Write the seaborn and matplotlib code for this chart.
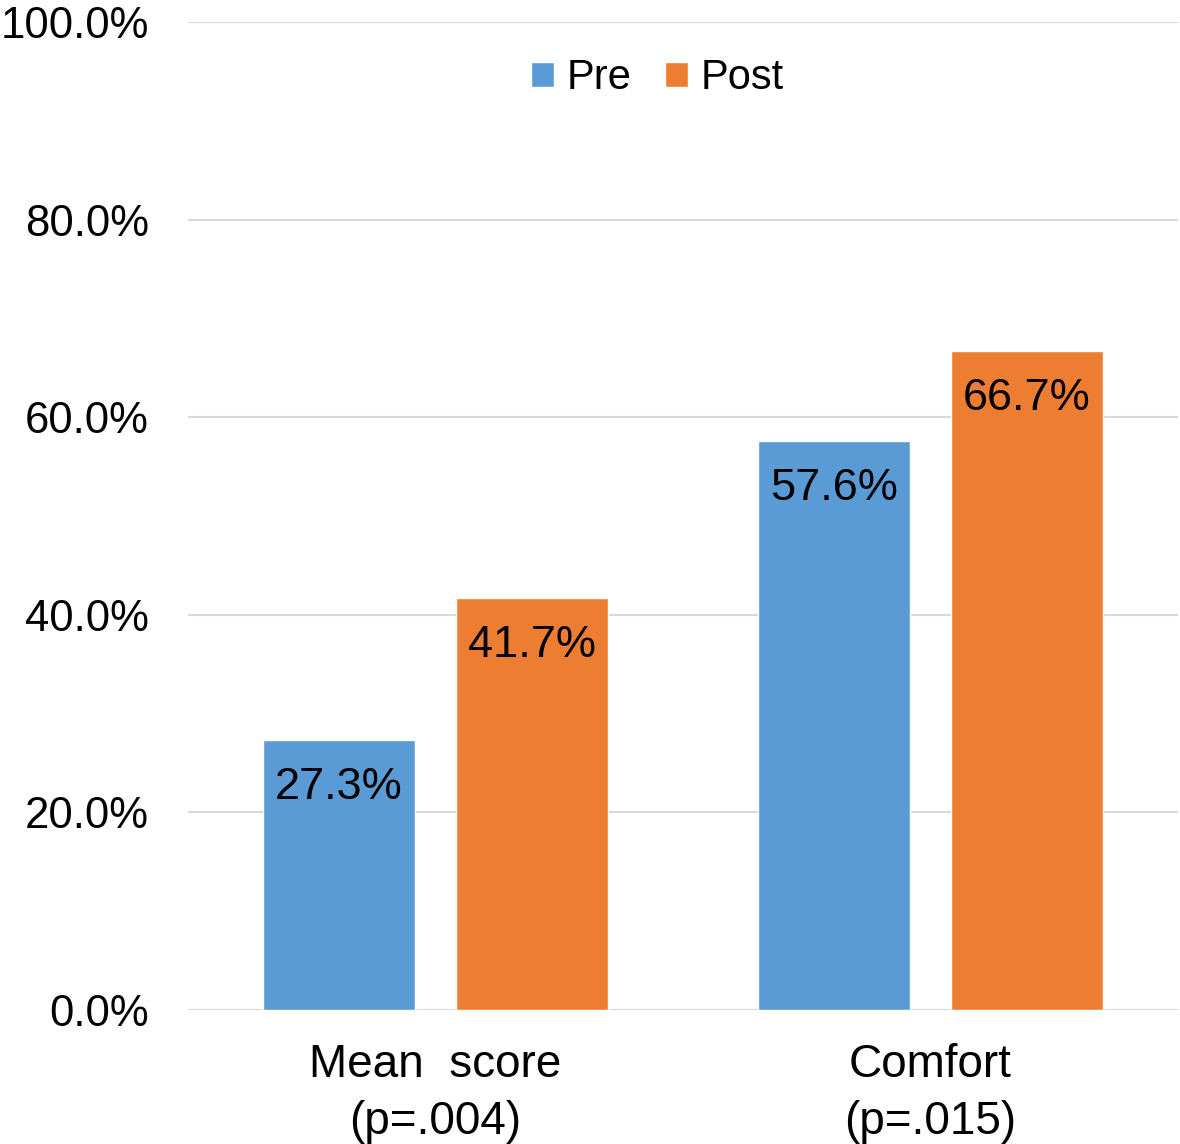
import matplotlib
matplotlib.use("Agg")
import matplotlib.pyplot as plt
import seaborn as sns
import pandas as pd

# Data
categories = ['Mean  score\n(p=.004)', 'Comfort\n(p=.015)']
pre_values = [27.3, 57.6]
post_values = [41.7, 66.7]
groups = ['Pre', 'Post']
y_ticks = [0, 20, 40, 60, 80, 100]

df = pd.DataFrame({'Category': categories, 'Pre': pre_values, 'Post': post_values})
df_melted = df.melt(id_vars='Category', var_name='Group', value_name='Percent')

sns.set_style("white")
plt.rcParams['font.family'] = ['Liberation Sans', 'DejaVu Sans']
plt.rcParams['text.color'] = 'black'
plt.rcParams['xtick.color'] = 'black'
plt.rcParams['ytick.color'] = 'black'

fig = plt.figure(figsize=(11.8, 11.44), dpi=100)
ax = fig.add_axes([0.1593, 0.1171, 0.8390, 0.8636])

palette = {'Pre': '#5B9BD5', 'Post': '#ED7D31'}
sns.barplot(data=df_melted, x='Category', y='Percent', hue='Group', hue_order=groups,
            palette=palette, width=0.78, gap=0.21, saturation=1, ax=ax, zorder=3)

# value labels inside the top of each bar
for container in ax.containers:
    for bar in container:
        h = bar.get_height()
        ax.annotate(f'{h:.1f}%', xy=(bar.get_x() + bar.get_width() / 2, h),
                    xytext=(0, -34), textcoords='offset points',
                    ha='center', va='center', fontsize=32.5, color='black', zorder=4)

ax.set_ylim(0, 100)
ax.set_xlim(-0.5, 1.5)
ax.set_yticks(y_ticks)
ax.set_yticklabels([f'{t:.1f}%' for t in y_ticks])
ax.yaxis.grid(True, color='#D9D9D9', linewidth=1.5, zorder=0)
ax.set_axisbelow(True)
for s in ax.spines.values():
    s.set_visible(False)
ax.tick_params(axis='y', labelsize=31.5, length=0, pad=28)
ax.tick_params(axis='x', labelsize=33, length=0, pad=24)
for lbl in ax.get_xticklabels():
    lbl.set_linespacing(1.38)
ax.set_xlabel('')
ax.set_ylabel('')

ax.legend(title=None, loc='center', bbox_to_anchor=(0.474, 0.943), ncol=2,
          frameon=False, fontsize=30, handlelength=0.55, handleheight=0.55,
          handletextpad=0.3, columnspacing=0.8, labelcolor='black')

fig.savefig('out.png', dpi=100)
